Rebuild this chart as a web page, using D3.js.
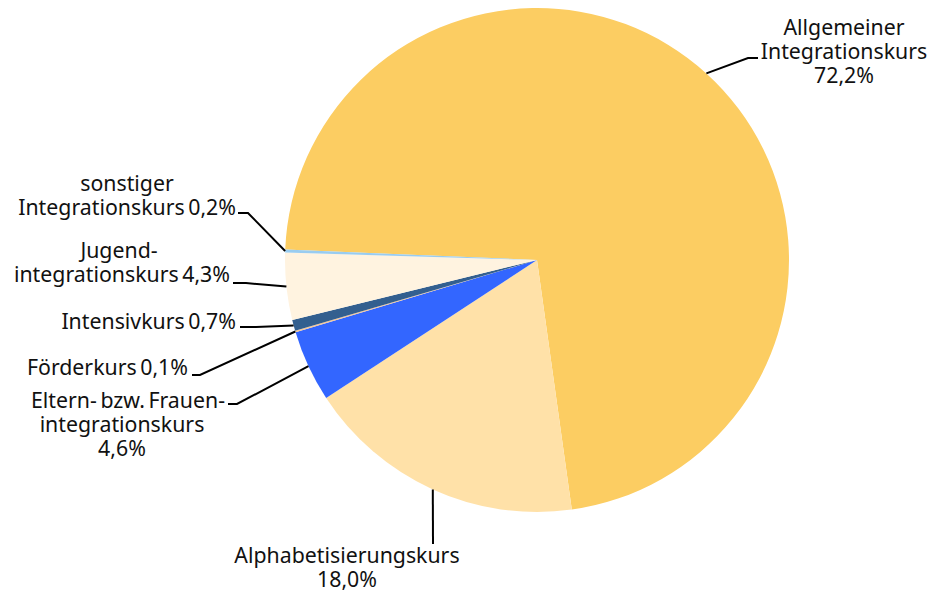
<!DOCTYPE html>
<html>
<head>
<meta charset="utf-8">
<script src="https://cdn.jsdelivr.net/npm/d3@7"></script>
<style>
  body { margin: 0; background: #fff; }
  text { font-family: "Noto Sans", sans-serif; font-size: 21.3px; fill: #111; word-spacing: -2px; }
</style>
</head>
<body>
<svg id="chart" width="934" height="593"></svg>
<script>
// data
const categories = [
  "Allgemeiner Integrationskurs",
  "Alphabetisierungskurs",
  "Eltern- bzw. Frauenintegrationskurs",
  "Förderkurs",
  "Intensivkurs",
  "Jugendintegrationskurs",
  "sonstiger Integrationskurs"
]
const shares = [72.2, 18.0, 4.6, 0.1, 0.7, 4.3, 0.2]
const shareLabels = ["72,2%", "18,0%", "4,6%", "0,1%", "0,7%", "4,3%", "0,2%"]
const colors = ["#fccd62", "#ffe1a8", "#3366ff", "#f5c79a", "#335f8f", "#fff3e0", "#99ccf0"]

// label text lines per slice
const labelLines = [
  ["Allgemeiner", "Integrationskurs", "72,2%"],
  ["Alphabetisierungskurs", "18,0%"],
  ["Eltern- bzw. Frauen-", "integrationskurs", "4,6%"],
  ["Förderkurs 0,1%"],
  ["Intensivkurs 0,7%"],
  ["Jugend-", "integrationskurs 4,3%"],
  ["sonstiger", "Integrationskurs 0,2%"]
]

// label layout: knee of leader line, end of short horizontal, text anchor
const labelLayout = [
  { knee: [748, 58], end: [758, 58], tx: 844, ty: 35, anchor: "middle" },
  { knee: [433, 544], end: [433, 544], tx: 347, ty: 563, anchor: "middle" },
  { knee: [237, 404], end: [228, 404], tx: null, ty: 408, anchor: "end", rx: 225, cx: 122 },
  { knee: [200, 375], end: [192, 375], tx: 188, ty: 375, anchor: "end" },
  { knee: [256, 327], end: [240, 327], tx: 236, ty: 329, anchor: "end" },
  { knee: [246, 283], end: [233, 283], tx: null, ty: 258, anchor: "end", rx: 230, cx: 119 },
  { knee: [248, 213], end: [238, 213], tx: null, ty: 191, anchor: "end", rx: 236, cx: 127 }
]

const cx = 537, cy = 260, radius = 252
const lineH = 24

const svg = d3.select("#chart")
const g = svg.append("g").attr("transform", `translate(${cx},${cy})`)

const data = categories.map((name, i) => ({ name, value: shares[i], i }))

const pie = d3.pie()
  .sort(null)
  .value(d => d.value)
  .startAngle(-87.6 * Math.PI / 180)
  .endAngle((-87.6 + 360) * Math.PI / 180)

const arc = d3.arc().innerRadius(0).outerRadius(radius)

const arcs = pie(data)

g.selectAll("path")
  .data(arcs)
  .enter().append("path")
    .attr("d", arc)
    .attr("fill", d => colors[d.data.i])

// leader lines
arcs.forEach(a => {
  const i = a.data.i
  const L = labelLayout[i]
  const mid = (a.startAngle + a.endAngle) / 2
  const px = cx + radius * Math.sin(mid)
  const py = cy - radius * Math.cos(mid)
  svg.append("polyline")
    .attr("points", [[px, py], L.knee, L.end].map(p => p.join(",")).join(" "))
    .attr("fill", "none")
    .attr("stroke", "#000")
    .attr("stroke-width", 2)
})

// labels
labelLines.forEach((lines, i) => {
  const L = labelLayout[i]
  const t = svg.append("text")
  lines.forEach((line, k) => {
    const last = k === lines.length - 1
    let x, anchor
    if (L.tx !== null) {
      x = L.tx; anchor = L.anchor
    } else {
      // multi-line labels on the left: the line joined to the leader is right aligned, others centered
      const joined = (i === 2) ? k === 0 : last
      x = joined ? L.rx : L.cx
      anchor = joined ? "end" : "middle"
    }
    t.append("tspan")
      .attr("x", x)
      .attr("y", L.ty + k * lineH)
      .attr("text-anchor", anchor)
      .text(line)
  })
})
</script>
</body>
</html>
